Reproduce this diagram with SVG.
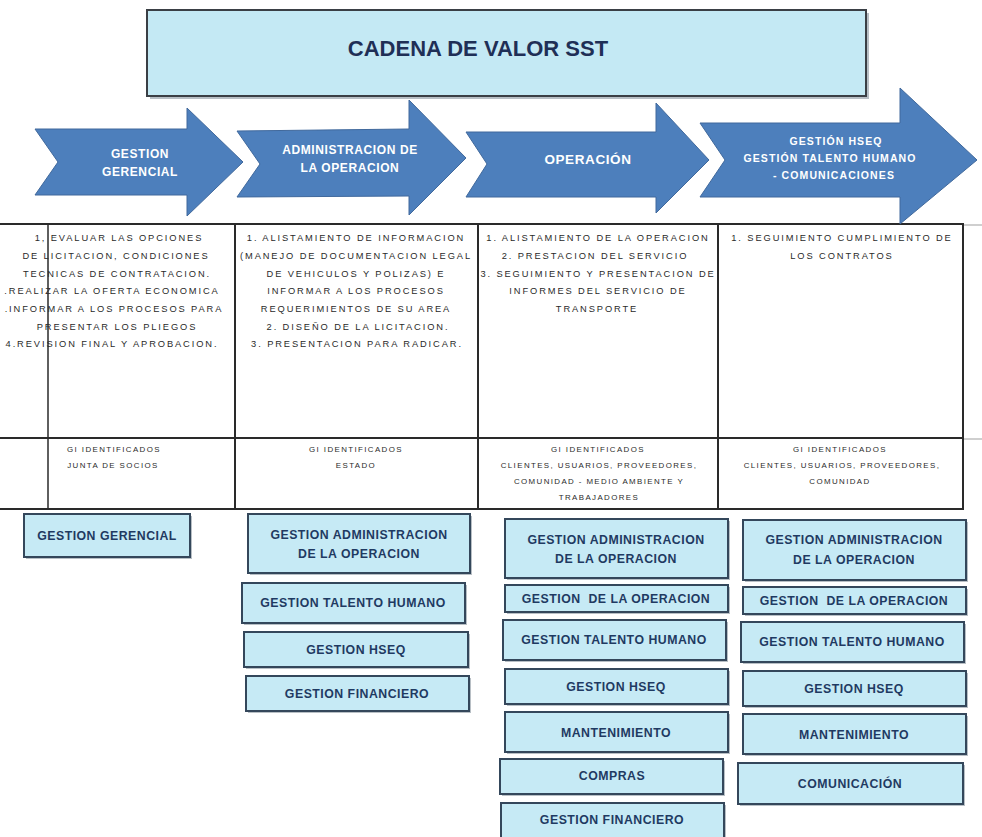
<svg xmlns="http://www.w3.org/2000/svg" width="982" height="837" viewBox="0 0 982 837">
<style>
  .bg{fill:#ffffff}
  .title-box{fill:#c4e9f4;stroke:#3a3f45;stroke-width:2}
  .shadow{fill:#9aa4ad;opacity:0.7}
  .title{font-family:"Liberation Sans",Arial,sans-serif;font-weight:bold;font-size:22px;fill:#1f2f56;text-anchor:middle}
  .arrow{fill:#4d7fbc;stroke:#41699c;stroke-width:1}
  .atext{font-family:"Liberation Sans",Arial,sans-serif;font-weight:bold;font-size:12px;letter-spacing:0.6px;fill:#ffffff;text-anchor:middle}
  .atext4{font-family:"Liberation Sans",Arial,sans-serif;font-weight:bold;font-size:10.5px;letter-spacing:1.1px;fill:#ffffff;text-anchor:middle}
  .tline{stroke:#2a2a2a;stroke-width:2;fill:none}
  .tline-thin{stroke:#2a2a2a;stroke-width:1.5;fill:none}
  .gline{stroke:#cfcfcf;stroke-width:2;fill:none}
  .cell{font-family:"Liberation Sans",Arial,sans-serif;font-size:9.3px;letter-spacing:1.9px;fill:#2a2a2a;text-anchor:middle}
  .cell2{font-family:"Liberation Sans",Arial,sans-serif;font-size:7.9px;letter-spacing:1.4px;fill:#2a2a2a;text-anchor:middle}
  .box{fill:#c6eaf5;stroke:#34475b;stroke-width:2}
  .btext{font-family:"Liberation Sans",Arial,sans-serif;font-weight:bold;font-size:12.3px;letter-spacing:0.5px;fill:#1f3a62;text-anchor:middle;white-space:pre}
</style>
<rect class="bg" x="0" y="0" width="982" height="837"/>

<g id="title">
  <rect class="shadow" x="150" y="13" width="719" height="86"/>
  <rect class="title-box" x="147" y="10" width="719" height="86"/>
  <text class="title" x="478" y="56">CADENA DE VALOR SST</text>
</g>

<g id="table">
  <line class="gline" x1="963" y1="225" x2="982" y2="225"/>
  <line class="gline" x1="963" y1="439" x2="982" y2="439"/>
  <line class="tline" x1="0" y1="224" x2="964" y2="224"/>
  <line class="tline" x1="0" y1="438" x2="964" y2="438"/>
  <line class="tline" x1="0" y1="509" x2="964" y2="509"/>
  <line class="tline-thin" x1="48" y1="224" x2="48" y2="509"/>
  <line class="tline" x1="235" y1="224" x2="235" y2="509"/>
  <line class="tline" x1="478" y1="224" x2="478" y2="509"/>
  <line class="tline" x1="718" y1="224" x2="718" y2="509"/>
  <line class="tline" x1="963" y1="224" x2="963" y2="509"/>
</g>

<g id="arrow-gestion-gerencial">
  <polygon class="arrow" points="35,129 187,129 187,108 243,162 187,216 187,195 35,195 58,162"/>
  <text class="atext" x="140" y="158">GESTION</text>
  <text class="atext" x="140" y="176">GERENCIAL</text>
</g>
<g id="arrow-administracion">
  <polygon class="arrow" points="237,131 409,129 409,100 466,158 409,215 409,196 237,197 260,164"/>
  <text class="atext" x="350" y="154">ADMINISTRACION DE</text>
  <text class="atext" x="350" y="172">LA OPERACION</text>
</g>
<g id="arrow-operacion">
  <polygon class="arrow" points="466,132 656,132 656,103 709,160 656,213 656,197 466,197 487,164"/>
  <text class="atext" x="588" y="164" style="font-size:13.5px">OPERACIÓN</text>
</g>
<g id="arrow-hseq">
  <polygon class="arrow" points="700,123 900,123 900,88 977,160 900,224 900,197 700,197 725,160"/>
  <text class="atext4" x="836" y="145">GESTIÓN HSEQ</text>
  <text class="atext4" x="830" y="162">GESTIÓN TALENTO HUMANO</text>
  <text class="atext4" x="834" y="179">- COMUNICACIONES</text>
</g>

<g id="cell-1-activities">
  <text class="cell" x="119" y="241">1, EVALUAR LAS OPCIONES</text>
  <text class="cell" x="116" y="259">DE LICITACION, CONDICIONES</text>
  <text class="cell" x="117" y="277">TECNICAS DE CONTRATACION.</text>
  <text class="cell" x="112" y="294">.REALIZAR LA OFERTA ECONOMICA</text>
  <text class="cell" x="114" y="312">.INFORMAR A LOS PROCESOS PARA</text>
  <text class="cell" x="117" y="330">PRESENTAR LOS PLIEGOS</text>
  <text class="cell" x="112" y="347">4.REVISION FINAL Y APROBACION.</text>
</g>
<g id="cell-2-activities">
  <text class="cell" x="356" y="241">1. ALISTAMIENTO DE INFORMACION</text>
  <text class="cell" x="356" y="259">(MANEJO DE DOCUMENTACION LEGAL</text>
  <text class="cell" x="356" y="277">DE VEHICULOS Y POLIZAS) E</text>
  <text class="cell" x="356" y="294">INFORMAR A LOS PROCESOS</text>
  <text class="cell" x="356" y="312">REQUERIMIENTOS DE SU AREA</text>
  <text class="cell" x="358" y="330">2. DISEÑO DE LA LICITACION.</text>
  <text class="cell" x="357" y="347">3. PRESENTACION PARA RADICAR.</text>
</g>
<g id="cell-3-activities">
  <text class="cell" x="598" y="241">1. ALISTAMIENTO DE LA OPERACION</text>
  <text class="cell" x="595" y="259">2. PRESTACION DEL SERVICIO</text>
  <text class="cell" x="598" y="277">3. SEGUIMIENTO Y PRESENTACION DE</text>
  <text class="cell" x="598" y="294">INFORMES DEL SERVICIO DE</text>
  <text class="cell" x="597" y="312">TRANSPORTE</text>
</g>
<g id="cell-4-activities">
  <text class="cell" x="842" y="241">1. SEGUIMIENTO CUMPLIMIENTO DE</text>
  <text class="cell" x="842" y="259">LOS CONTRATOS</text>
</g>

<g id="cell-1-stakeholders">
  <text class="cell2" x="114" y="452">GI IDENTIFICADOS</text>
  <text class="cell2" x="113" y="468">JUNTA DE SOCIOS</text>
</g>
<g id="cell-2-stakeholders">
  <text class="cell2" x="356" y="452">GI IDENTIFICADOS</text>
  <text class="cell2" x="356" y="468">ESTADO</text>
</g>
<g id="cell-3-stakeholders">
  <text class="cell2" x="598" y="452">GI IDENTIFICADOS</text>
  <text class="cell2" x="599" y="468">CLIENTES, USUARIOS, PROVEEDORES,</text>
  <text class="cell2" x="599" y="484">COMUNIDAD - MEDIO AMBIENTE Y</text>
  <text class="cell2" x="599" y="500">TRABAJADORES</text>
</g>
<g id="cell-4-stakeholders">
  <text class="cell2" x="840" y="452">GI IDENTIFICADOS</text>
  <text class="cell2" x="842" y="468">CLIENTES, USUARIOS, PROVEEDORES,</text>
  <text class="cell2" x="840" y="484">COMUNIDAD</text>
</g>

<g id="box-c1-gerencial">
  <rect class="shadow" x="26" y="516" width="166" height="43"/>
  <rect class="box" x="24" y="514" width="166" height="43"/>
  <text class="btext" x="107" y="540">GESTION GERENCIAL</text>
</g>

<g id="box-c2-administracion">
  <rect class="shadow" x="250" y="516" width="222" height="59"/>
  <rect class="box" x="248" y="514" width="222" height="59"/>
  <text class="btext" x="359" y="539">GESTION ADMINISTRACION</text>
  <text class="btext" x="359" y="558">DE LA OPERACION</text>
</g>
<g id="box-c2-talento">
  <rect class="shadow" x="244" y="585" width="223" height="40"/>
  <rect class="box" x="242" y="583" width="223" height="40"/>
  <text class="btext" x="353" y="607">GESTION TALENTO HUMANO</text>
</g>
<g id="box-c2-hseq">
  <rect class="shadow" x="246" y="634" width="224" height="35"/>
  <rect class="box" x="244" y="632" width="224" height="35"/>
  <text class="btext" x="356" y="654">GESTION HSEQ</text>
</g>
<g id="box-c2-financiero">
  <rect class="shadow" x="248" y="678" width="223" height="35"/>
  <rect class="box" x="246" y="676" width="223" height="35"/>
  <text class="btext" x="357" y="698">GESTION FINANCIERO</text>
</g>

<g id="box-c3-administracion">
  <rect class="shadow" x="507" y="521" width="223" height="59"/>
  <rect class="box" x="505" y="519" width="223" height="59"/>
  <text class="btext" x="616" y="544">GESTION ADMINISTRACION</text>
  <text class="btext" x="616" y="563">DE LA OPERACION</text>
</g>
<g id="box-c3-operacion">
  <rect class="shadow" x="507" y="587" width="223" height="27"/>
  <rect class="box" x="505" y="585" width="223" height="27"/>
  <text class="btext" x="616" y="603">GESTION  DE LA OPERACION</text>
</g>
<g id="box-c3-talento">
  <rect class="shadow" x="505" y="622" width="223" height="40"/>
  <rect class="box" x="503" y="620" width="223" height="40"/>
  <text class="btext" x="614" y="644">GESTION TALENTO HUMANO</text>
</g>
<g id="box-c3-hseq">
  <rect class="shadow" x="507" y="671" width="223" height="35"/>
  <rect class="box" x="505" y="669" width="223" height="35"/>
  <text class="btext" x="616" y="691">GESTION HSEQ</text>
</g>
<g id="box-c3-mantenimiento">
  <rect class="shadow" x="507" y="714" width="223" height="40"/>
  <rect class="box" x="505" y="712" width="223" height="40"/>
  <text class="btext" x="616" y="737">MANTENIMIENTO</text>
</g>
<g id="box-c3-compras">
  <rect class="shadow" x="502" y="761" width="223" height="35"/>
  <rect class="box" x="500" y="759" width="223" height="35"/>
  <text class="btext" x="612" y="780">COMPRAS</text>
</g>
<g id="box-c3-financiero">
  <rect class="shadow" x="503" y="805" width="223" height="36"/>
  <rect class="box" x="501" y="803" width="223" height="36"/>
  <text class="btext" x="612" y="824">GESTION FINANCIERO</text>
</g>

<g id="box-c4-administracion">
  <rect class="shadow" x="745" y="522" width="223" height="60"/>
  <rect class="box" x="743" y="520" width="223" height="60"/>
  <text class="btext" x="854" y="544">GESTION ADMINISTRACION</text>
  <text class="btext" x="854" y="564">DE LA OPERACION</text>
</g>
<g id="box-c4-operacion">
  <rect class="shadow" x="745" y="589" width="223" height="27"/>
  <rect class="box" x="743" y="587" width="223" height="27"/>
  <text class="btext" x="854" y="605">GESTION  DE LA OPERACION</text>
</g>
<g id="box-c4-talento">
  <rect class="shadow" x="743" y="624" width="223" height="40"/>
  <rect class="box" x="741" y="622" width="223" height="40"/>
  <text class="btext" x="852" y="646">GESTION TALENTO HUMANO</text>
</g>
<g id="box-c4-hseq">
  <rect class="shadow" x="745" y="673" width="223" height="35"/>
  <rect class="box" x="743" y="671" width="223" height="35"/>
  <text class="btext" x="854" y="693">GESTION HSEQ</text>
</g>
<g id="box-c4-mantenimiento">
  <rect class="shadow" x="745" y="716" width="223" height="40"/>
  <rect class="box" x="743" y="714" width="223" height="40"/>
  <text class="btext" x="854" y="739">MANTENIMIENTO</text>
</g>
<g id="box-c4-comunicacion">
  <rect class="shadow" x="740" y="765" width="225" height="41"/>
  <rect class="box" x="738" y="763" width="225" height="41"/>
  <text class="btext" x="850" y="788">COMUNICACIÓN</text>
</g>

<g id="connectors"></g>
</svg>
